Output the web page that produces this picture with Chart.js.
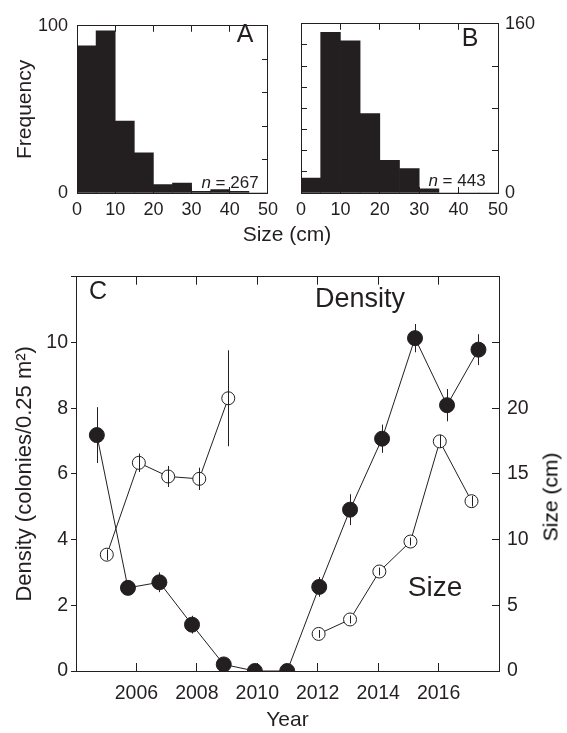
<!DOCTYPE html>
<html>
<head>
<meta charset="utf-8">
<script src="https://cdn.jsdelivr.net/npm/chart.js@4.4.0/dist/chart.umd.min.js"></script>
<style>
  body { margin: 0; background: #fff; }
  #wrap { position: relative; width: 567px; height: 733px; font-family: 'Liberation Sans', Arial, sans-serif; color: #231f20; }
  canvas { position: absolute; }
  .lbl { position: absolute; white-space: nowrap; transform: translate(-50%, -50%); line-height: 1; }
</style>
</head>
<body>
<div id="wrap">
  <canvas id="chA" width="290" height="230" style="left:0;top:0"></canvas>
  <canvas id="chB" width="287" height="230" style="left:280px;top:0"></canvas>
  <canvas id="chC" width="567" height="483" style="left:0;top:250px"></canvas>

  <div class="lbl" style="left:245px;top:33px;font-size:25px">A</div>
  <div class="lbl" style="left:470px;top:37px;font-size:25px">B</div>
  <div class="lbl" style="left:230px;top:182px;font-size:17px"><i>n</i> = 267</div>
  <div class="lbl" style="left:457px;top:180px;font-size:17px"><i>n</i> = 443</div>
  <div class="lbl" style="left:287px;top:233px;font-size:21px">Size (cm)</div>

  <div class="lbl" style="left:98px;top:290px;font-size:25px">C</div>
  <div class="lbl" style="left:360px;top:298px;font-size:27px">Density</div>
  <div class="lbl" style="left:435px;top:587px;font-size:28px">Size</div>
  <div class="lbl" style="left:550px;top:497px;font-size:21px;color:#000;transform:translate(-50%,-50%) rotate(-90deg)">Size (cm)</div>
</div>

<script>
// histogram bins (cm), 5 cm wide
const binStarts = [0, 5, 10, 15, 20, 25, 30, 35, 40, 45];
const freqA = [88, 97, 43, 24, 5, 6, 1, 2, 1, 0];   // n = 267
const freqB = [14, 152, 144, 75, 31, 23, 4, 0, 0, 0]; // n = 443

// panel C
const densYears = [2004.69, 2005.72, 2006.76, 2007.84, 2008.89, 2009.92, 2010.99, 2012.05, 2013.07, 2014.13, 2015.22, 2016.28, 2017.32];
const density = [7.18, 2.53, 2.70, 1.41, 0.20, 0, 0, 2.56, 4.91, 7.07, 10.13, 8.09, 9.78];
const densityErr = [0.85, 0.2, 0.3, 0.27, 0.1, 0, 0, 0.3, 0.47, 0.43, 0.43, 0.49, 0.47];

const sizeYears = [2005.02, 2006.08, 2007.05, 2008.08, 2009.04, 2010, 2011, 2012.03, 2013.07, 2014.04, 2015.07, 2016.04, 2017.09];
const sizeCm = [8.85, 15.84, 14.8, 14.62, 20.75, null, null, 2.82, 3.92, 7.57, 9.85, 17.47, 12.92];
const sizeErr = [0.4, 0.7, 0.8, 0.85, 3.65, null, null, 0.3, 0.3, 0.3, 0.3, 0.5, 0.4];

const ink = '#231f20';
Chart.defaults.font.family = "'Liberation Sans', Arial, sans-serif";
Chart.defaults.color = ink;

// tick marks: negative length points them into the plot
function tickGrid(len) {
  return { display: true, drawOnChartArea: false, drawTicks: true, tickLength: len, color: ink, lineWidth: 1, offset: false };
}
const border = { display: true, color: ink, width: 1 };

const errorBars = {
  id: 'errorBars',
  afterDatasetsDraw(chart) {
    const ctx = chart.ctx;
    const xs = chart.scales.x;
    chart.data.datasets.forEach(ds => {
      if (!ds.errors) return;
      const ys = chart.scales[ds.yAxisID];
      ctx.save();
      ctx.strokeStyle = ink;
      ctx.lineWidth = 1;
      ds.data.forEach((p, j) => {
        const e = ds.errors[j];
        if (p.y == null || !e) return;
        const px = Math.round(xs.getPixelForValue(p.x)) + 0.5;
        ctx.beginPath();
        ctx.moveTo(px, ys.getPixelForValue(p.y - e));
        ctx.lineTo(px, ys.getPixelForValue(p.y + e));
        ctx.stroke();
      });
      ctx.restore();
    });
  }
};

function histogram(id, freq, yMax, labelSide, sizes) {
  const showY = v => (v === 0 || v === yMax) ? String(v) : '';
  const yLeft = {
    position: 'left', min: 0, max: yMax, border, grid: tickGrid(-6),
    ticks: { stepSize: 20, display: labelSide === 'left', callback: showY, font: { size: 18 }, padding: 15 },
    title: { display: labelSide === 'left', text: 'Frequency', font: { size: 21 }, padding: { top: 13 } },
    afterFit: s => { s.width = sizes.left; }
  };
  const yRight = {
    position: 'right', min: 0, max: yMax, border, grid: tickGrid(-6),
    ticks: { stepSize: 20, display: labelSide === 'right', callback: showY, font: { size: 18 }, padding: 13 },
    afterFit: s => { s.width = sizes.right; }
  };
  return new Chart(document.getElementById(id), {
    type: 'bar',
    data: {
      datasets: [{
        data: binStarts.map((s, i) => ({ x: s + 2.5, y: freq[i] })),
        backgroundColor: ink,
        borderWidth: 0,
        barPercentage: 1,
        categoryPercentage: 1,
        yAxisID: 'y'
      }]
    },
    options: {
      responsive: false,
      animation: false,
      devicePixelRatio: 1,
      layout: { padding: { top: sizes.top, left: 0, right: 0, bottom: 0 } },
      plugins: { legend: { display: false }, tooltip: { enabled: false } },
      scales: {
        x: {
          type: 'linear', position: 'bottom', min: 0, max: 50, offset: false, border, grid: tickGrid(-6),
          ticks: { stepSize: 10, font: { size: 18 }, padding: 12, maxRotation: 0 },
          afterFit: s => { s.height = 37; }
        },
        xTop: {
          type: 'linear', position: 'top', min: 0, max: 50, offset: false, border, grid: tickGrid(-6),
          ticks: { stepSize: 10, display: false },
          afterFit: s => { s.height = 0; }
        },
        y: labelSide === 'left' ? yLeft : yRight,
        y2: labelSide === 'left' ? yRight : yLeft
      }
    }
  });
}

histogram('chA', freqA, 100, 'left', { left: 77, right: 17, top: 12 });
histogram('chB', freqB, 160, 'right', { left: 21, right: 69, top: 13 });

const yearLabel = v => (v > 2004 && v < 2018) ? String(v) : '';

new Chart(document.getElementById('chC'), {
  type: 'line',
  data: {
    datasets: [
      {
        label: 'Size',
        data: sizeYears.map((x, i) => ({ x, y: sizeCm[i] })),
        errors: sizeErr,
        yAxisID: 'y2',
        borderColor: ink,
        borderWidth: 1,
        pointRadius: 6.5,
        pointBorderWidth: 1,
        pointBackgroundColor: '#fff',
        pointBorderColor: ink,
        spanGaps: false
      },
      {
        label: 'Density',
        data: densYears.map((x, i) => ({ x, y: density[i] })),
        errors: densityErr,
        yAxisID: 'y',
        borderColor: ink,
        borderWidth: 1,
        pointRadius: 7.5,
        pointBorderWidth: 1,
        pointBackgroundColor: ink,
        pointBorderColor: ink
      }
    ]
  },
  options: {
    responsive: false,
    animation: false,
    devicePixelRatio: 1,
    layout: { padding: { top: 12, left: 0, right: 0, bottom: 0 } },
    plugins: { legend: { display: false }, tooltip: { enabled: false } },
    scales: {
      x: {
        type: 'linear', position: 'bottom', min: 2004, max: 2018, border, grid: tickGrid(-8),
        ticks: { stepSize: 2, callback: yearLabel, font: { size: 19.5 }, padding: 19, maxRotation: 0 },
        title: { display: true, text: 'Year', font: { size: 21 }, padding: { bottom: 0 } },
        afterFit: s => { s.height = 62; }
      },
      xTop: {
        type: 'linear', position: 'top', min: 2004, max: 2018, border, grid: tickGrid(-8),
        ticks: { stepSize: 2, display: false },
        afterFit: s => { s.height = 0; }
      },
      y: {
        position: 'left', min: 0, max: 12, border, grid: tickGrid(5),
        ticks: { stepSize: 2, callback: v => v < 12 ? String(v) : '', font: { size: 19.5 }, padding: 3 },
        title: { display: true, text: 'Density (colonies/0.25 m²)', font: { size: 22 }, padding: { top: 12 } },
        afterFit: s => { s.width = 76; }
      },
      y2: {
        position: 'right', min: 0, max: 30, border, grid: tickGrid(-7),
        ticks: { stepSize: 5, callback: v => v <= 20 ? String(v) : '', font: { size: 19.5 }, padding: 15 },
        afterFit: s => { s.width = 68; }
      }
    }
  },
  plugins: [errorBars]
});
</script>
</body>
</html>
